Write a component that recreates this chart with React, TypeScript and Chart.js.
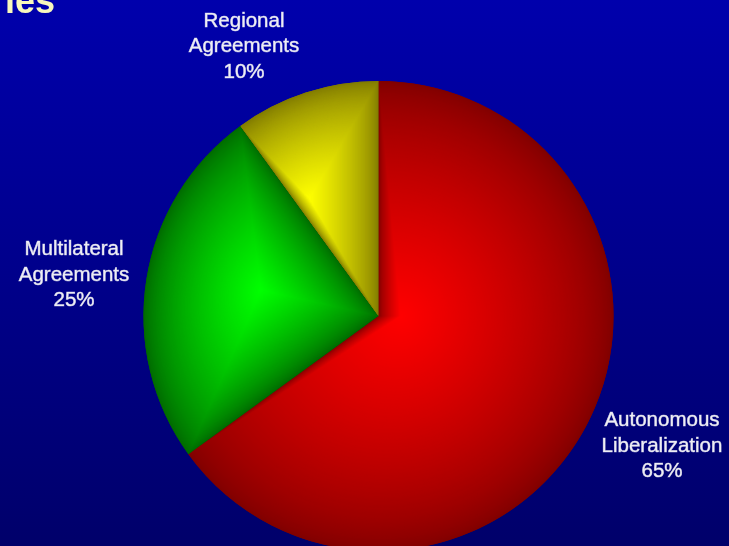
import React, { useEffect, useRef } from "react";
import { Chart, registerables } from "chart.js";

Chart.register(...registerables);

// Pie content: one entry per slice, drawn clockwise from 12 o'clock.
const categories = ["Autonomous Liberalization", "Multilateral Agreements", "Regional Agreements"];
const labelLines = [
  ["Autonomous", "Liberalization"],
  ["Multilateral", "Agreements"],
  ["Regional", "Agreements"],
];
const shares = [65, 25, 10];
const titleFragment = "ies";

// Rim (dark) and core (bright) tones of each slice's path gradient.
const rimColors = [
  [128, 0, 0],
  [0, 106, 0],
  [128, 122, 0],
];
const coreColors = [
  [255, 0, 0],
  [0, 255, 0],
  [255, 255, 0],
];

const VIEW_W = 729;
const VIEW_H = 546;
const CANVAS_H = 600;

function rgb(c: number[]) {
  return `rgb(${Math.round(c[0])},${Math.round(c[1])},${Math.round(c[2])})`;
}

function mix(a: number[], b: number[], t: number) {
  return [a[0] + (b[0] - a[0]) * t, a[1] + (b[1] - a[1]) * t, a[2] + (b[2] - a[2]) * t];
}

// Bounding box of a pie sector, used as the focus of its path gradient.
function sectorBox(cx: number, cy: number, r: number, a0: number, a1: number) {
  const pts: number[][] = [
    [cx, cy],
    [cx + r * Math.cos(a0), cy + r * Math.sin(a0)],
    [cx + r * Math.cos(a1), cy + r * Math.sin(a1)],
  ];
  const q = Math.PI / 2;
  for (let k = Math.ceil(a0 / q); k * q <= a1; k++) {
    const a = k * q;
    pts.push([cx + r * Math.cos(a), cy + r * Math.sin(a)]);
  }
  const xs = pts.map((p) => p[0]);
  const ys = pts.map((p) => p[1]);
  return {
    minX: Math.min(...xs),
    maxX: Math.max(...xs),
    minY: Math.min(...ys),
    maxY: Math.max(...ys),
  };
}

const backdropPlugin = {
  id: "backdrop",
  beforeDraw(chart: any) {
    const ctx = chart.ctx;
    const g = ctx.createLinearGradient(0, 0, 0, VIEW_H);
    g.addColorStop(0, "#0000ac");
    g.addColorStop(1, "#00006a");
    ctx.save();
    ctx.fillStyle = g;
    ctx.fillRect(0, 0, chart.width, chart.height);
    ctx.restore();
  },
};

// Shades every slice with a shape-following gradient: dark at the outline,
// bright at the centre of the slice's bounding box.
const sliceShadePlugin = {
  id: "sliceShade",
  afterDatasetsDraw(chart: any) {
    const ctx = chart.ctx;
    const meta = chart.getDatasetMeta(0);
    const steps = 180;
    meta.data.forEach((arc: any, i: number) => {
      const p = arc.getProps(["x", "y", "startAngle", "endAngle", "outerRadius"], true);
      const box = sectorBox(p.x, p.y, p.outerRadius, p.startAngle, p.endAngle);
      const fx = (box.minX + box.maxX) / 2;
      const fy = (box.minY + box.maxY) / 2;
      for (let s = 0; s < steps; s++) {
        const t = s / steps;
        const scale = 1 - t;
        ctx.save();
        ctx.translate(fx, fy);
        ctx.scale(scale, scale);
        ctx.translate(-fx, -fy);
        ctx.beginPath();
        ctx.moveTo(p.x, p.y);
        ctx.arc(p.x, p.y, p.outerRadius, p.startAngle, p.endAngle);
        ctx.closePath();
        ctx.fillStyle = rgb(mix(rimColors[i], coreColors[i], Math.pow(t, 0.72)));
        ctx.fill();
        ctx.restore();
      }
    });
  },
};

// Slice captions sit outside the pie; the last line is the share.
const captionAnchors = [
  { x: 662, y: 426 },
  { x: 74, y: 255 },
  { x: 244, y: 26.5 },
];

const captionPlugin = {
  id: "captions",
  afterDraw(chart: any) {
    const ctx = chart.ctx;
    ctx.save();
    ctx.font = "20.5px 'Liberation Sans', Arial, sans-serif";
    ctx.textAlign = "center";
    ctx.textBaseline = "alphabetic";
    ctx.fillStyle = "#eeeef4";
    ctx.strokeStyle = "rgba(238,238,244,0.7)";
    ctx.lineWidth = 0.6;
    const lineGap = 25.5;
    shares.forEach((v, i) => {
      const a = captionAnchors[i];
      const lines = [...labelLines[i], `${v}%`];
      lines.forEach((ln, k) => {
        ctx.fillText(ln, a.x, a.y + k * lineGap);
        ctx.strokeText(ln, a.x, a.y + k * lineGap);
      });
    });
    ctx.font = "bold 36px 'Liberation Sans', Arial, sans-serif";
    ctx.textAlign = "left";
    ctx.fillStyle = "#f8f8bc";
    ctx.fillText(titleFragment, 5, 13);
    ctx.restore();
  },
};

export default function App() {
  const canvasRef = useRef<HTMLCanvasElement | null>(null);

  useEffect(() => {
    document.body.style.margin = "0";
    const canvas = canvasRef.current;
    if (!canvas) return;
    const chart = new Chart(canvas, {
      type: "pie",
      data: {
        labels: categories,
        datasets: [
          {
            data: shares,
            backgroundColor: rimColors.map(rgb),
            borderWidth: 0,
          },
        ],
      },
      options: {
        responsive: false,
        maintainAspectRatio: false,
        animation: false,
        events: [],
        layout: {
          padding: { top: 81, bottom: 49, left: 143.5, right: 115.5 },
        },
        plugins: {
          legend: { display: false },
          tooltip: { enabled: false },
        },
      },
      plugins: [backdropPlugin, sliceShadePlugin, captionPlugin],
    });
    return () => chart.destroy();
  }, []);

  return (
    <div style={{ width: VIEW_W, height: VIEW_H, overflow: "hidden", background: "#00008a" }}>
      <canvas ref={canvasRef} width={VIEW_W} height={CANVAS_H} style={{ display: "block" }} />
    </div>
  );
}
